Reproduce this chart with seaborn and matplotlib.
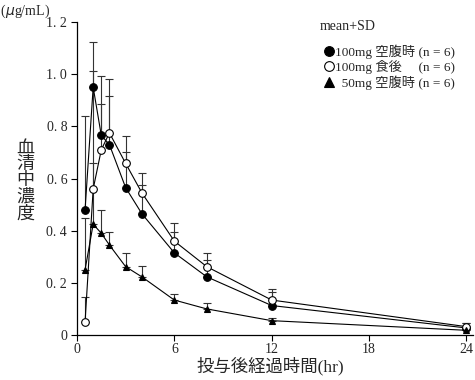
import numpy as np
import pandas as pd
import seaborn as sns
import matplotlib
matplotlib.use("Agg")
import matplotlib.pyplot as plt

# Serum concentration (ug/mL), mean and mean+SD
times = [0.5, 1, 1.5, 2, 3, 4, 6, 8, 12, 24]
fast100_mean = [0.48, 0.95, 0.765, 0.73, 0.565, 0.465, 0.315, 0.223, 0.113, 0.027]
fast100_top = [0.84, 1.123, 0.885, 0.917, 0.702, 0.574, 0.393, 0.287, 0.165, 0.045]
fed100_mean = [0.05, 0.56, 0.71, 0.775, 0.658, 0.545, 0.36, 0.262, 0.134, 0.032]
fed100_top = [0.146, 1.013, 0.993, 0.983, 0.764, 0.623, 0.428, 0.313, 0.176, 0.045]
fast50_mean = [0.25, 0.425, 0.39, 0.345, 0.262, 0.223, 0.134, 0.10, 0.055, 0.018]
fast50_top = [0.447, 0.66, 0.48, 0.396, 0.315, 0.264, 0.157, 0.121, 0.066, 0.03]

labels = ["100mg 空腹時 (n = 6)", "100mg 食後　 (n = 6)", "  50mg 空腹時 (n = 6)"]
xticks = [0, 6, 12, 18, 24]
yticks = [0, 0.2, 0.4, 0.6, 0.8, 1.0, 1.2]
ytick_labels = ["0", "0. 2", "0. 4", "0. 6", "0. 8", "1. 0", "1. 2"]

sns.set_style("ticks")
plt.rcParams["font.family"] = ["Liberation Serif", "Noto Sans CJK JP"]

fig = plt.figure(figsize=(4.75, 3.8), dpi=100)
ax = fig.add_axes([0.162, 0.1184, 0.8337, 0.8237])

series = [
    (fast100_mean, fast100_top, "o", "black"),
    (fed100_mean, fed100_top, "o", "white"),
    (fast50_mean, fast50_top, "^", "black"),
]

handles = []
for (mean, top, mk, face), lab in zip(series, labels):
    mean = np.array(mean)
    err = np.array(top) - mean
    ax.errorbar(times, mean, yerr=[np.zeros_like(err), err], fmt="none",
                ecolor="#333333", elinewidth=0.8, capsize=3.2, capthick=0.8, zorder=1)
    df = pd.DataFrame({"t": times, "c": mean})
    sns.lineplot(data=df, x="t", y="c", ax=ax, color="black", lw=0.8,
                 marker=mk, markersize=5.5 if mk == "o" else 5,
                 markerfacecolor=face, markeredgecolor="black", markeredgewidth=0.8,
                 zorder=3)
    handles.append(ax.lines[-1])

ax.set_xlim(0, 24.4)
ax.set_ylim(0, 1.2)
ax.set_xticks(xticks)
ax.set_yticks(yticks)
ax.set_yticklabels(ytick_labels)
ax.tick_params(axis="both", labelsize=10, length=4, width=0.8, pad=2, color="black")
ax.tick_params(axis="y", pad=3)
ax.set_xlabel("")
ax.set_ylabel("")
for s in ["top", "right"]:
    ax.spines[s].set_visible(False)
for s in ["left", "bottom"]:
    ax.spines[s].set_linewidth(0.9)
    ax.spines[s].set_color("black")

fig.text(25 / 475, 1 - 181 / 380, "血\n清\n中\n濃\n度", ha="center", va="center",
         fontsize=13, linespacing=0.95)
fig.text(0.0, 1 - 11 / 380, "(", ha="left", va="center", fontsize=10)
fig.text(5 / 475, 1 - 11 / 380, "$\\mu$g/mL)", ha="left", va="center", fontsize=10)
fig.text(270 / 475, 1 - 366 / 380, "投与後経過時間(hr)", ha="center", va="center",
         fontsize=12.5)
fig.text(320 / 475, 1 - 27 / 380, "mean+SD", ha="left", va="center", fontsize=10)

leg = ax.legend(handles, labels, loc="upper left", bbox_to_anchor=(324 / 475, 1 - 44 / 380),
                bbox_transform=fig.transFigure, frameon=False, handlelength=0.7,
                handletextpad=0.15, labelspacing=0.1, borderpad=0, fontsize=9.5,
                borderaxespad=0)
for h in leg.legend_handles:
    h.set_linestyle("none")
    h.set_markersize(7)

fig.savefig("out.png", dpi=100)
